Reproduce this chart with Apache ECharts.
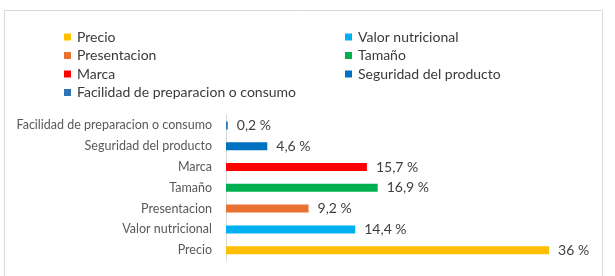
<!DOCTYPE html>
<html>
<head>
<meta charset="utf-8">
<script src="https://cdn.jsdelivr.net/npm/echarts@6/dist/echarts.min.js"></script>
<style>html,body{margin:0;padding:0;background:#fff}#c{width:615px;height:276px}</style>
</head>
<body>
<div id="c"></div>
<script>
const categories = ["Precio", "Valor nutricional", "Presentacion", "Tamaño", "Marca", "Seguridad del producto", "Facilidad de preparacion o consumo"];
const values = [36, 14.4, 9.2, 16.9, 15.7, 4.6, 0.2];
const colors = ["#FFC000", "#00B0F0", "#E97132", "#00B050", "#FF0000", "#0070C0", "#2E75B6"];
const legendCol1 = ["Precio", "Presentacion", "Marca", "Facilidad de preparacion o consumo"];
const legendCol2 = ["Valor nutricional", "Tamaño", "Seguridad del producto"];

const FONT = "Lato";
const chart = echarts.init(document.getElementById('c'), null, {renderer: 'canvas'});

const series = categories.map((name, i) => ({
  name: name,
  type: 'bar',
  stack: 'all',
  barWidth: 8,
  itemStyle: {color: colors[i]},
  label: {
    show: true,
    position: 'right',
    distance: 9,
    color: '#404040',
    fontFamily: FONT,
    fontSize: 14,
    formatter: p => String(p.value).replace('.', ',') + ' %'
  },
  data: categories.map((c, j) => j === i ? values[i] : '-')
}));

const legendCommon = {
  orient: 'vertical',
  top: 30,
  padding: 0,
  itemWidth: 7,
  itemHeight: 7,
  itemGap: 4.5,
  icon: 'rect',
  selectedMode: false,
  textStyle: {fontFamily: FONT, fontSize: 14, color: '#3a3a3a', lineHeight: 14, padding: [0, 0, 0, 1]}
};

chart.setOption({
  animation: false,
  graphic: [{
    type: 'rect',
    shape: {x: 4.5, y: 10.5, width: 598, height: 290},
    style: {fill: 'none', stroke: '#D9D9D9', lineWidth: 1},
    silent: true
  }],
  legend: [
    Object.assign({}, legendCommon, {left: 64, data: legendCol1}),
    Object.assign({}, legendCommon, {left: 345, data: legendCol2})
  ],
  grid: {left: 226, right: 30, top: 115, bottom: 15.4, containLabel: false},
  xAxis: {
    type: 'value',
    min: 0,
    max: 40,
    show: false
  },
  yAxis: {
    type: 'category',
    data: categories,
    axisLine: {show: true, lineStyle: {color: '#D9D9D9'}},
    axisTick: {show: false},
    axisLabel: {color: '#595959', fontFamily: FONT, fontSize: 12.5, margin: 14},
    splitLine: {show: false}
  },
  series: series
});
</script>
</body>
</html>
